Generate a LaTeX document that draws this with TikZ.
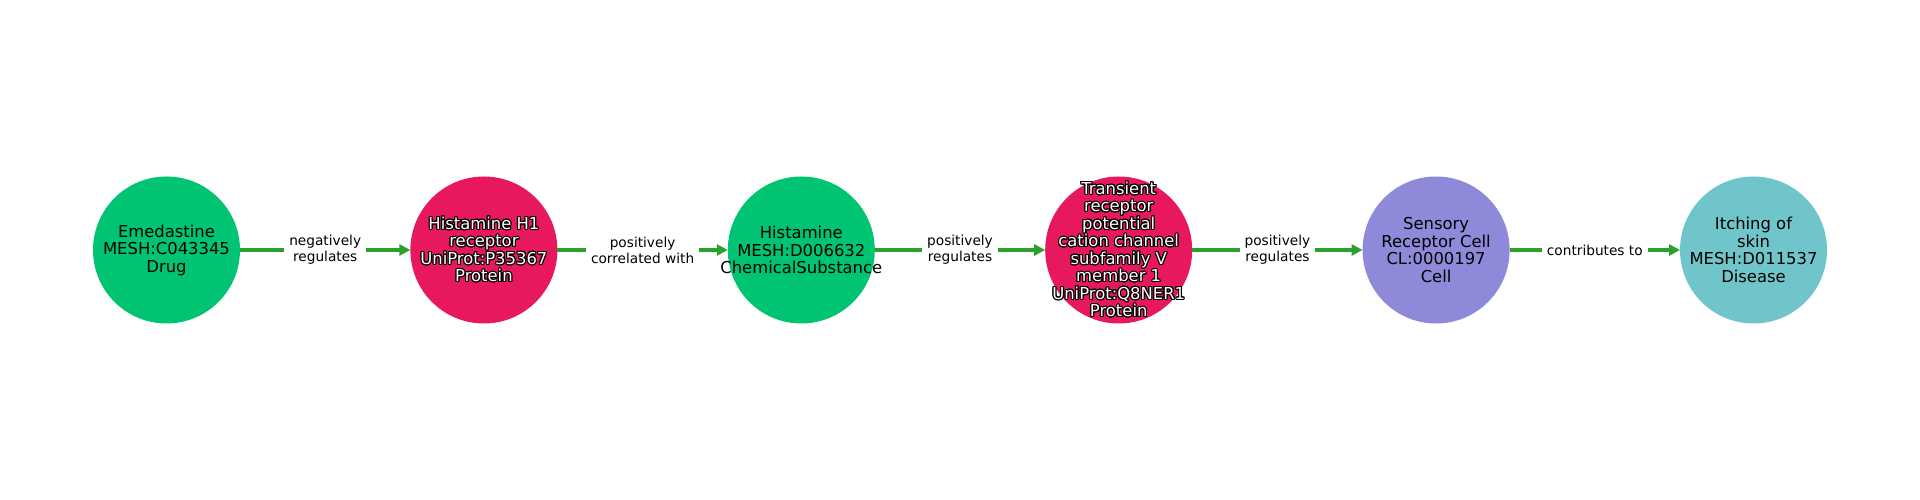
\documentclass[tikz,border=0pt]{standalone}
\usepackage{fontspec}
\setmainfont{DejaVu Sans}
\usepackage{contour}
\contourlength{1.1pt}
\usetikzlibrary{arrows.meta}

\definecolor{drugc}{HTML}{00C472}
\definecolor{protc}{HTML}{E8185E}
\definecolor{cellc}{HTML}{8E89D8}
\definecolor{disc}{HTML}{70C5CA}
\definecolor{edgec}{HTML}{2CA02C}

\newcommand{\wline}[1]{\contour{black}{#1}}

\begin{document}
\begin{tikzpicture}[
  x=1pt, y=1pt,
  ent/.style={circle, minimum size=147pt, inner sep=0pt, outer sep=0pt},
  etxt/.style={align=center, inner sep=0pt, font=\fontsize{16.4}{17.5}\selectfont},
  ptxt/.style={etxt, text=white},
  rel/.style={-{Triangle[length=11pt,width=11pt]}, line width=4pt, draw=edgec},
  lbl/.style={fill=white, inner xsep=5pt, inner ysep=1pt, align=center,
              font=\fontsize{13.7}{16}\selectfont},
]
\useasboundingbox (0,0) rectangle (1920,500);

% --- entities ---
\node[ent, fill=drugc, label={[etxt]center:Emedastine\\MESH:C043345\\Drug}] (emed) at (166.5,250) {};
\node[ent, fill=protc, label={[ptxt]center:\wline{Histamine H1}\\\wline{receptor}\\\wline{UniProt:P35367}\\\wline{Protein}}] (hrh1) at (483.9,250) {};
\node[ent, fill=drugc, label={[etxt]center:Histamine\\MESH:D006632\\ChemicalSubstance}] (hist) at (801.3,250) {};
\node[ent, fill=protc, label={[ptxt]center:\wline{Transient}\\\wline{receptor}\\\wline{potential}\\\wline{cation channel}\\\wline{subfamily V}\\\wline{member 1}\\\wline{UniProt:Q8NER1}\\\wline{Protein}}] (trpv1) at (1118.7,250) {};
\node[ent, fill=cellc, label={[etxt]center:Sensory\\Receptor Cell\\CL:0000197\\Cell}] (sensory) at (1436.1,250) {};
\node[ent, fill=disc, label={[etxt]center:Itching of\\skin\\MESH:D011537\\Disease}] (itch) at (1753.5,250) {};

% --- relations ---
\draw[rel] (emed)    -- node[lbl]{negatively\\regulates} (hrh1);
\draw[rel] (hrh1)    -- node[lbl]{positively\\correlated with} (hist);
\draw[rel] (hist)    -- node[lbl]{positively\\regulates} (trpv1);
\draw[rel] (trpv1)   -- node[lbl]{positively\\regulates} (sensory);
\draw[rel] (sensory) -- node[lbl]{contributes to} (itch);
\end{tikzpicture}
\end{document}
